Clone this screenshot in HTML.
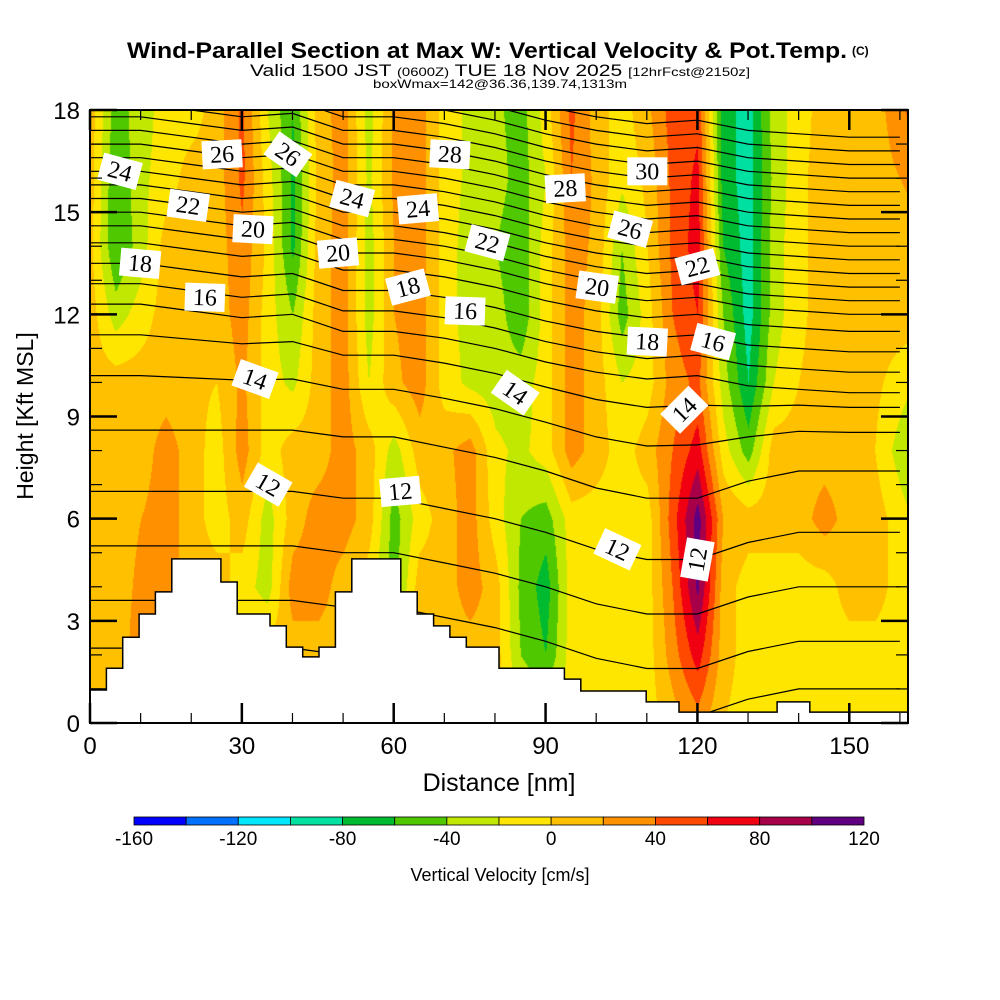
<!DOCTYPE html>
<html><head><meta charset="utf-8">
<style>
html,body{margin:0;padding:0;background:#fff;width:1000px;height:1000px;overflow:hidden}
#field{position:absolute;left:90px;top:110px;width:818px;height:613px}
#ov{position:absolute;left:0;top:0}
text{font-family:"Liberation Sans",sans-serif}
.lbl{font-family:"Liberation Serif",serif;font-size:24px}
</style></head><body>
<canvas id="field" width="818" height="613"></canvas>
<svg id="ov" width="1000" height="1000" xmlns="http://www.w3.org/2000/svg">
<text x="127" y="58" font-size="22" font-weight="bold" textLength="720" lengthAdjust="spacingAndGlyphs">Wind-Parallel Section at Max W: Vertical Velocity &amp; Pot.Temp.</text>
<text x="852" y="55" font-size="12" font-weight="bold">(C)</text>
<text x="250" y="76" font-size="17" textLength="500" lengthAdjust="spacingAndGlyphs">Valid 1500 JST <tspan font-size="12">(0600Z)</tspan> TUE 18 Nov 2025 <tspan font-size="12">[12hrFcst@2150z]</tspan></text>
<text x="373" y="88" font-size="12" textLength="254" lengthAdjust="spacingAndGlyphs">boxWmax=142@36.36,139.74,1313m</text>
<defs><clipPath id="pc"><rect x="90" y="110" width="818" height="613"/></clipPath></defs>
<g id="theta" clip-path="url(#pc)"></g>
<g id="terrain"></g>
<g id="labels"></g>
<g id="axes"></g>
<g id="cbar"></g>
<text x="499" y="791" font-size="25" text-anchor="middle">Distance [nm]</text>
<text x="0" y="0" font-size="23" text-anchor="middle" transform="translate(33,416) rotate(-90)">Height [Kft MSL]</text>
<text x="500" y="881" font-size="18" text-anchor="middle">Vertical Velocity [cm/s]</text>
</svg>
<script>
// ---- data ----
const xNodes=[0,5,10,15,20,25,30,35,40,45,50,55,60,65,70,75,80,85,90,95,100,105,110,115,120,125,130,135,140,145,150,155,160];
const hNodes=[18,16,14,12,10,8,6,4,2,0];
const w18=[10,-50,-30,-10,-10,10,45,-20,-60,10,30,-30,25,30,-10,-25,-35,-50,-10,45,10,-10,15,50,55,-70,-90,-30,-10,10,10,10,35];
const w16=[10,-60,-25,-10,10,10,45,-10,-65,5,30,-25,25,30,-10,-25,-30,-50,-20,40,15,-15,5,45,65,-70,-90,-35,-5,10,10,10,20];
const w14=[5,-60,-30,10,10,10,35,-5,-65,10,30,-30,20,30,-10,-30,-40,-55,-10,30,15,-40,0,45,70,-60,-90,-30,-5,10,10,10,10];
const w12=[10,-30,-10,10,10,10,30,-10,-40,10,30,-30,20,30,-10,-30,-30,-55,-10,30,10,-50,-10,40,60,-40,-90,-30,-5,10,10,10,10];
const w10=[10,10,10,10,5,0,25,-10,-25,10,30,-20,15,30,-10,-25,-30,-30,-10,30,10,-20,-10,30,45,-30,-80,-20,0,10,10,5,-10];
const w8=[10,10,10,30,10,-10,30,-10,10,10,30,10,-30,10,15,30,-15,-25,-10,30,10,-10,10,40,70,-10,-50,10,10,10,10,0,-30];
const w6=[10,10,20,30,10,-10,10,-30,10,30,30,10,-50,-10,10,30,-10,-40,-50,-10,-10,-10,-10,50,110,20,10,10,10,30,10,10,-10];
const w4=[10,10,25,30,10,10,-10,-30,30,30,10,-10,-50,10,10,30,10,-45,-70,-10,-10,-10,-10,40,105,10,-10,-10,-10,-10,10,10,-10];
const w2=[10,10,30,30,10,10,10,10,10,10,10,10,10,10,10,10,10,-40,-60,-10,-10,-10,-10,30,70,10,-10,-10,-10,-10,-10,-10,-10];
const w0=[10,10,10,10,10,10,10,10,10,10,10,10,10,10,10,10,10,-10,-10,-10,-10,-10,-10,10,30,0,-10,-10,-10,-10,-10,-10,-10];
const binColors=["#0000ff","#0070ff","#00e6ff","#00e0a0","#00bb30","#50c800","#c0e800","#ffe600","#ffc000","#ff9000","#ff4800","#f00010","#a80048","#600080"];
const cbTicks=[-160,-120,-80,-40,0,40,80,120];
// terrain step heights (kft), 50 steps across 0..161.7 nm
const terrain=[0.97,1.61,2.52,3.2,3.85,4.82,4.82,4.82,4.14,3.2,3.2,2.85,2.23,1.94,2.23,3.85,4.82,4.82,4.82,3.85,3.2,2.85,2.52,2.23,2.23,1.61,1.61,1.61,1.61,1.29,0.94,0.94,0.94,0.94,0.62,0.62,0.32,0.32,0.32,0.32,0.32,0.32,0.62,0.62,0.32,0.32,0.32,0.32,0.32,0.32];
// theta contour levels (K) and their heights (kft) at x=0
const thetaLevels=[8,9,10,11,12,13,14,15,16,17,18,19,20,21,22,23,24,25,26,27,28,29,30,31,32,33];
const thetaBaseH=[1.0,2.2,3.6,5.2,6.8,8.6,10.2,11.4,12.3,12.9,13.5,14.1,14.6,15.0,15.4,15.8,16.2,16.6,17.0,17.4,17.8,18.2,18.6,19.0,19.4,19.8];
const dispX=[0,10,20,30,40,50,60,70,80,90,100,110,120,130,140,150,160];
const dispUpper=[0,0,-0.2,-0.4,-0.3,-0.8,-0.8,-1.0,-1.3,-1.7,-2.0,-2.2,-2.1,-2.4,-2.5,-2.6,-2.6];
const dispLower=[0,0,0,0,0,-0.2,-0.2,-0.5,-0.8,-1.2,-1.7,-2.0,-2.0,-1.5,-1.2,-1.2,-1.2];
const labelText=["24","26","26","28","22","24","24","30","28","20","20","26","22","18","18","20","22","16","16","18","16","14","14","14","12","12","12","12"];
const labelX=[5.9,26.1,39.1,71.1,19.4,51.8,64.8,110.1,93.9,32.2,49,106.7,78.5,9.9,62.8,100.2,120,22.7,74.1,110.1,123.1,32.6,84,117.4,35.2,61.3,104.2,120];
const labelH=[16.2,16.7,16.7,16.7,15.2,15.4,15.1,16.2,15.7,14.5,13.8,14.5,14.1,13.5,12.8,12.8,13.4,12.5,12.1,11.2,11.2,10.1,9.7,9.2,7.0,6.8,5.1,4.8];
const labelRot=[15,-3,35,3,8,15,-5,0,-3,3,-5,15,15,5,-15,8,-15,2,2,3,15,20,35,-45,30,-5,25,-80];
const xTicks=[0,30,60,90,120,150];
const yTicks=[0,3,6,9,12,15,18];

// ---- scales ----
const X0=90,X1=908,Y0=723,Y1=110,XMAX=161.6,HMAX=18;
const sx=v=>X0+v/XMAX*(X1-X0);
const sy=v=>Y0-v/HMAX*(Y0-Y1);
const NS="http://www.w3.org/2000/svg";
function mk(tag,attrs,parent){const e=document.createElementNS(NS,tag);for(const k in attrs)e.setAttribute(k,attrs[k]);parent.appendChild(e);return e;}
function binColor(v){let b=Math.floor((v+160)/20);b=Math.max(0,Math.min(13,b));return binColors[b];}

// ---- field ----
const rows=[w18,w16,w14,w12,w10,w8,w6,w4,w2,w0];
(function(){
 const cv=document.getElementById('field'),ctx=cv.getContext('2d');
 const W=cv.width,H=cv.height,img=ctx.createImageData(W,H);
 const rgb=binColors.map(c=>[parseInt(c.substr(1,2),16),parseInt(c.substr(3,2),16),parseInt(c.substr(5,2),16)]);
 const dx=xNodes[1]-xNodes[0],dh=hNodes[0]-hNodes[1];
 for(let py=0;py<H;py++){
  const h=(H-py)/H*HMAX; let r=(hNodes[0]-h)/dh; let r0=Math.min(Math.floor(r),rows.length-2); const fr=r-r0;
  for(let px=0;px<W;px++){
   const nm=px/W*XMAX; let c=nm/dx; let c0=Math.min(Math.floor(c),xNodes.length-2); const fc=c-c0;
   const v=(rows[r0][c0]*(1-fc)+rows[r0][c0+1]*fc)*(1-fr)+(rows[r0+1][c0]*(1-fc)+rows[r0+1][c0+1]*fc)*fr;
   let b=Math.floor((v+160)/20);b=Math.max(0,Math.min(13,b));
   const i=(py*W+px)*4,col=rgb[b];img.data[i]=col[0];img.data[i+1]=col[1];img.data[i+2]=col[2];img.data[i+3]=255;
  }
 }
 ctx.putImageData(img,0,0);
})();

// ---- theta contours ----
const gT=document.getElementById('theta');
thetaLevels.forEach((L,i)=>{
 const w=Math.max(0,Math.min(1,(L-13)/3));
 const pts=dispX.map((x,j)=>sx(x).toFixed(1)+","+sy(thetaBaseH[i]+w*dispUpper[j]+(1-w)*dispLower[j]).toFixed(1)).join(" ");
 const pl=mk('polyline',{points:pts,fill:"none",stroke:"#000","stroke-width":"1.2"},gT);
 
 
});

// ---- terrain ----
(function(){
 const g=document.getElementById('terrain');const n=terrain.length,step=XMAX/n;
 let d="M"+sx(0)+","+sy(0);
 terrain.forEach((t,i)=>{d+=" L"+sx(i*step).toFixed(1)+","+sy(t).toFixed(1)+" L"+sx((i+1)*step).toFixed(1)+","+sy(t).toFixed(1);});
 d+=" L"+sx(XMAX)+","+sy(0)+" Z";
 const p=mk('path',{d:d,fill:"#fff",stroke:"#000","stroke-width":"1.5"},g);
 
 
})();

// ---- labels ----
(function(){
 const g=document.getElementById('labels');
 labelText.forEach((t,i)=>{
  const gg=mk('g',{transform:"translate("+sx(labelX[i]).toFixed(1)+","+sy(labelH[i]).toFixed(1)+") rotate("+labelRot[i]+")"},g);
  
  
  mk('rect',{x:-20,y:-14,width:40,height:28,fill:"#fff"},gg);
  const tx=mk('text',{x:0,y:8,"text-anchor":"middle",class:"lbl"},gg);tx.textContent=t;
 });
})();

// ---- axes ----
(function(){
 const g=document.getElementById('axes');
 for(let x=0;x<=160;x+=10){
  const major=x%30===0,len=major?20:10;
  mk('line',{x1:sx(x),y1:Y0,x2:sx(x),y2:Y0-len,stroke:"#000","stroke-width":major?2.5:1.2},g);
  mk('line',{x1:sx(x),y1:Y1,x2:sx(x),y2:Y1+len,stroke:"#000","stroke-width":major?2.5:1.2},g);
 }
 for(let h=0;h<=18;h++){
  const major=h%3===0,len=major?27:12;
  mk('line',{x1:X0,y1:sy(h),x2:X0+len,y2:sy(h),stroke:"#000","stroke-width":major?2.5:1.2},g);
  mk('line',{x1:X1,y1:sy(h),x2:X1-len,y2:sy(h),stroke:"#000","stroke-width":major?2.5:1.2},g);
 }
 const fr=mk('rect',{x:X0,y:Y1,width:X1-X0,height:Y0-Y1,fill:"none",stroke:"#000","stroke-width":2},g);
 
 
 xTicks.forEach(v=>{const t=mk('text',{x:sx(v),y:754,"font-size":24,"text-anchor":"middle"},g);t.textContent=v;
  
  });
 yTicks.forEach(v=>{const t=mk('text',{x:80,y:sy(v)+9,"font-size":24,"text-anchor":"end"},g);t.textContent=v;
  
  });
})();

// ---- colorbar ----
(function(){
 const g=document.getElementById('cbar');const cx0=134,cx1=864,bw=(cx1-cx0)/binColors.length;
 binColors.forEach((c,i)=>{const r=mk('rect',{x:cx0+i*bw,y:817,width:bw,height:8,fill:c,stroke:"#000","stroke-width":0.8},g);
  
  });
 cbTicks.forEach(v=>{const t=mk('text',{x:cx0+(v+160)/280*(cx1-cx0),y:845,"font-size":19,"text-anchor":"middle"},g);t.textContent=v;
  
  });
})();
</script>
</body></html>
